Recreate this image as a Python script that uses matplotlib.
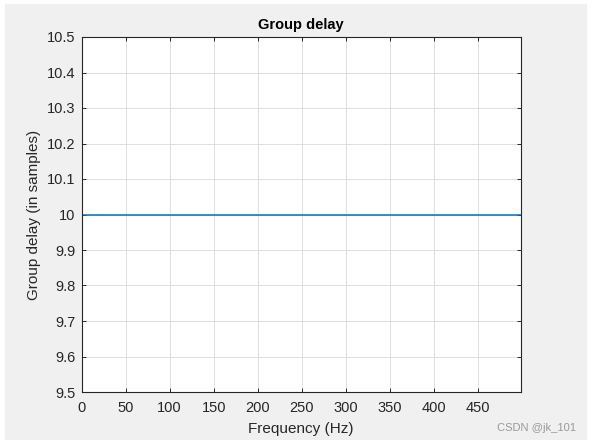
import numpy as np
import matplotlib.pyplot as plt
from matplotlib.patches import Rectangle

# group delay data (constant 10 samples)
freq_hz = np.linspace(0, 499.0234375, 512)
group_delay = np.full(512, 10.0)

x_ticks = [0, 50, 100, 150, 200, 250, 300, 350, 400, 450]
y_ticks = [9.5, 9.6, 9.7, 9.8, 9.9, 10.0, 10.1, 10.2, 10.3, 10.4, 10.5]
y_tick_labels = ["9.5", "9.6", "9.7", "9.8", "9.9", "10", "10.1", "10.2",
                 "10.3", "10.4", "10.5"]

plt.rcParams["font.family"] = ["Liberation Sans", "DejaVu Sans"]

W, H = 592, 446
fig = plt.figure(figsize=(W / 100, H / 100), dpi=100)
fig.patch.set_facecolor("white")
fig.patches.append(Rectangle((5 / W, 1 - 440 / H), 582 / W, 436 / H,
                             transform=fig.transFigure, facecolor="#f0f0f0",
                             edgecolor="none", zorder=-10))

ax = fig.add_axes([81.7 / W, 1 - 392 / H, (520.7 - 81.7) / W, (392 - 37) / H])
ax.plot(freq_hz, group_delay, color="#0072bd", linewidth=1.1)
ax.set_xlim(0, 499.0234375)
ax.set_ylim(9.5, 10.5)
ax.set_xticks(x_ticks)
ax.set_yticks(y_ticks)
ax.set_yticklabels(y_tick_labels)
ax.grid(True, color="#dedede", linewidth=0.7)
ax.set_axisbelow(True)
ax.tick_params(direction="in", top=True, right=True, length=3, width=0.7,
               labelsize=10.5, colors="#262626")
ax.tick_params(axis="x", pad=6.5)
ax.tick_params(axis="y", pad=4.5)
for s in ax.spines.values():
    s.set_color("#262626")
    s.set_linewidth(0.8)

ax.set_title("Group delay", fontsize=10.5, fontweight="bold", pad=5.5)
ax.set_xlabel("Frequency (Hz)", fontsize=11, labelpad=5, color="#262626")
ax.set_ylabel("Group delay (in samples)", fontsize=11, labelpad=4.5, color="#262626")

fig.text(576 / W, 1 - 428 / H, "CSDN @jk_101", ha="right", va="center",
         fontsize=8, color="#999999")

fig.savefig("out.png", dpi=100)
